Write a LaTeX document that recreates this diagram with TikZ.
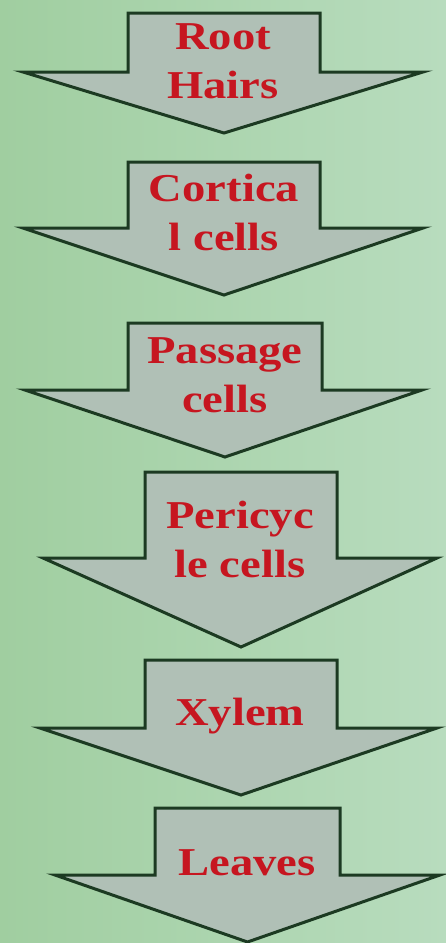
\documentclass[tikz,border=0pt]{standalone}
\usepackage{fontspec}
\setmainfont{Liberation Serif}[FakeStretch=1.18]
\usepackage{xcolor}
\usetikzlibrary{positioning}
\definecolor{bgleft}{RGB}{160,206,160}
\definecolor{bgright}{RGB}{184,220,190}
\definecolor{arrowfill}{RGB}{176,192,182}
\definecolor{arrowline}{RGB}{28,58,34}
\definecolor{labelred}{RGB}{198,22,32}

\begin{document}
\begin{tikzpicture}[x=1pt,y=-1pt,
  blockarrow/.style={draw=arrowline,fill=arrowfill,line width=3pt,line join=miter},
  celltext/.style={text=labelred,font=\fontsize{39.5}{49}\selectfont\bfseries,align=center,inner sep=0pt,anchor=base}]
  \shade[left color=bgleft,right color=bgright] (0,0) rectangle (446,943);
  \useasboundingbox (0,0) rectangle (446,943);

  \foreach \l/\r/\hl/\hr/\t/\s/\tip in {128/320/23/423/13/72/133, 128/320/23/423/162/228/295,
      128/322/25/422/323/390/457, 145/337/43/437/472/558/647,
      145/337/40/437/660/728/795, 155/340/55/440/808/875/942}
    \draw[blockarrow] (\l,\t) -- (\r,\t) -- (\r,\s) -- (\hr,\s) -- ({(\l+\r)/2},\tip)
      -- (\hl,\s) -- (\l,\s) -- cycle;

  \node[celltext] (root) at (223,98) {Root\\Hairs};
  \node[celltext] (cortex) at (224,250) {Cortica\\l cells};
  \node[celltext] (passage) at (225,412) {Passage\\cells};
  \node[celltext] (pericycle) at (240,577) {Pericyc\\le cells};
  \node[celltext] (xylem) at (240,725) {Xylem};
  \node[celltext] (leaves) at (247,875) {Leaves};
\end{tikzpicture}
\end{document}
